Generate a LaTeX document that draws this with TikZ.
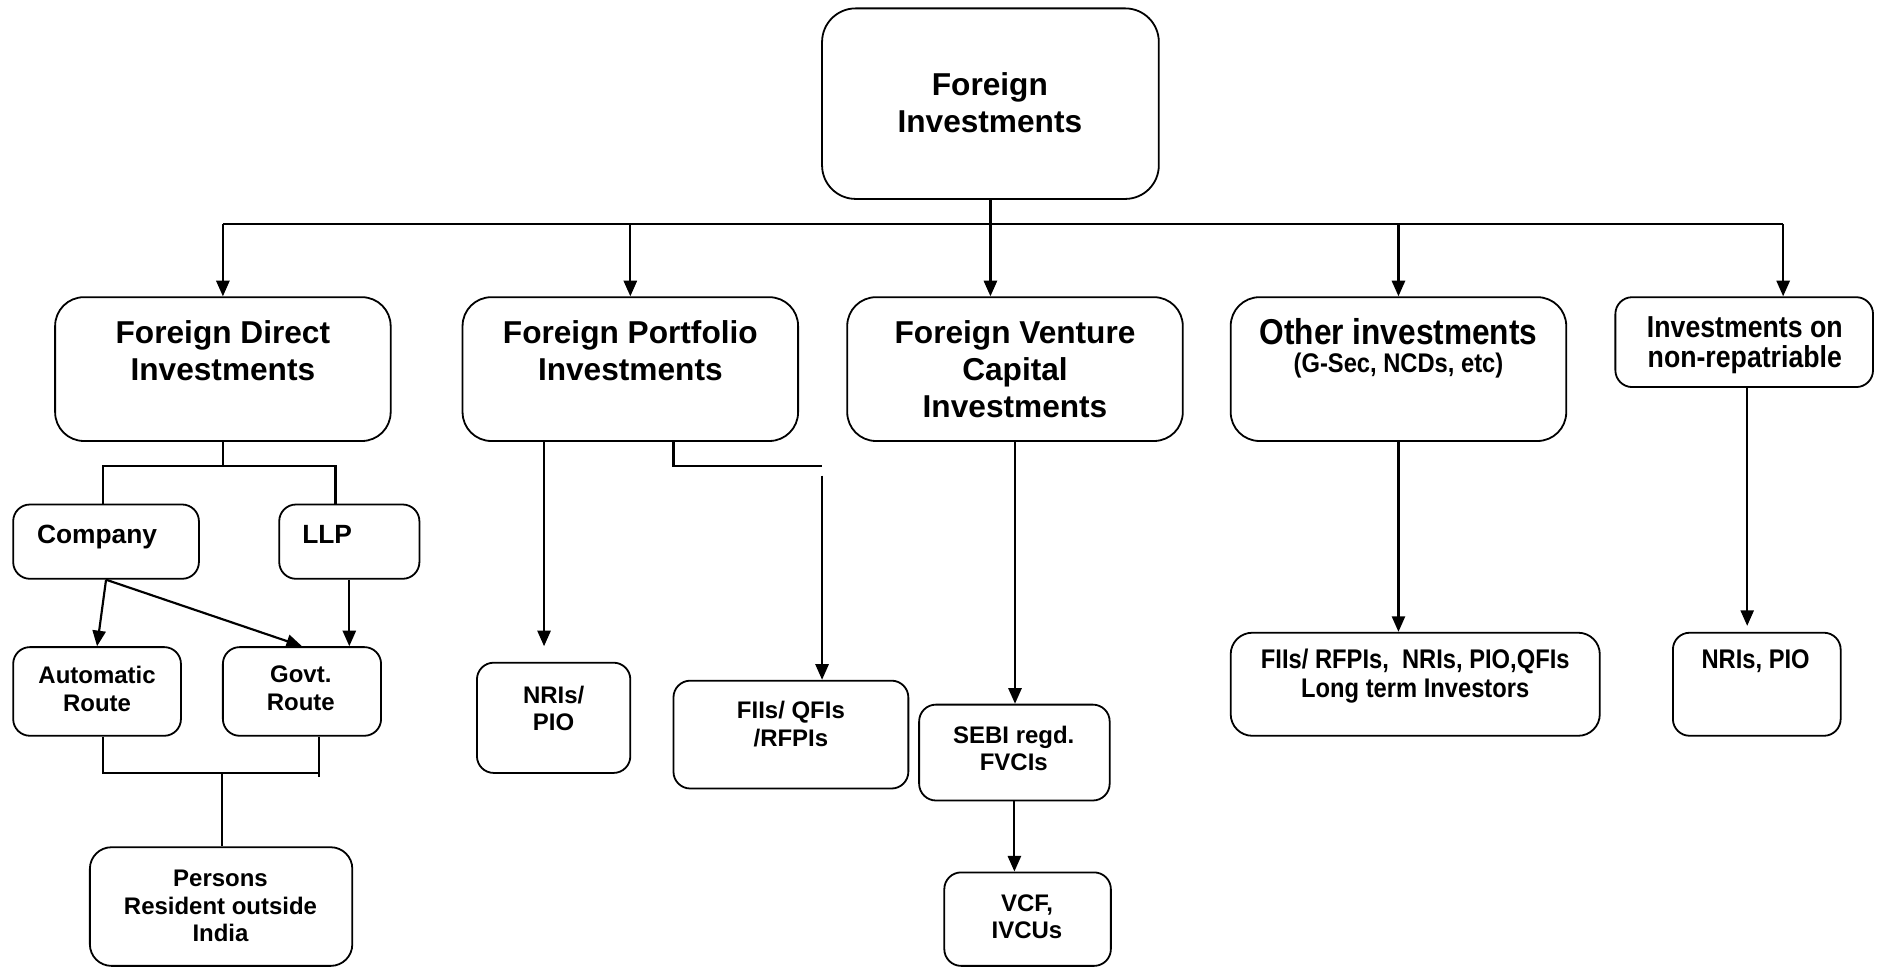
\documentclass[tikz,border=0pt]{standalone}
\usepackage{fontspec}
\setmainfont{Liberation Sans}
\newfontfamily\narrowsans[FakeStretch=0.88]{Liberation Sans}
\usetikzlibrary{arrows.meta}

\begin{document}
\begin{tikzpicture}[x=1pt,y=-1pt]
\tikzstyle{every node}+=[inner sep=0pt]
\tikzstyle{box}=[draw=black, line width=1.5pt, rounded corners=14pt]
\tikzstyle{head}=[font=\fontsize{26.4}{31}\selectfont\bfseries, align=center]
\tikzstyle{mid}=[font=\fontsize{22}{25}\selectfont\bfseries, align=center]
\tikzstyle{leaf}=[font=\fontsize{20}{23}\selectfont\bfseries, align=center]
\tikzstyle{nhead}=[font=\narrowsans\fontsize{30}{32}\selectfont\bfseries, align=center]
\tikzstyle{nleaf}=[font=\narrowsans\fontsize{22.5}{24}\selectfont\bfseries, align=center]
\tikzstyle{nmid}=[font=\narrowsans\fontsize{25.3}{25}\selectfont\bfseries, align=center]
\tikzstyle{link}=[line width=1.8pt]
\tikzstyle{arr}=[link, -{Triangle[width=11pt,length=13pt]}]
\useasboundingbox (0,0) rectangle (1568,808);
% boxes
\node[box, rounded corners=28pt, minimum width=281pt, minimum height=159pt] (root) at (826.5,86.5) {};
\node[box, rounded corners=24pt, minimum width=280pt, minimum height=120pt] (fdi) at (186,308) {};
\node[box, rounded corners=24pt, minimum width=280pt, minimum height=120pt] (fpi) at (526,308) {};
\node[box, rounded corners=24pt, minimum width=280pt, minimum height=120pt] (fvci) at (847,308) {};
\node[box, rounded corners=24pt, minimum width=280pt, minimum height=120pt] (oth) at (1167,308) {};
\node[box, minimum width=215pt, minimum height=75pt] (nonrep) at (1455.5,285.5) {};
\node[box, minimum width=155pt, minimum height=62pt] (company) at (88.5,452) {};
\node[box, minimum width=117pt, minimum height=62pt] (llp) at (291.5,452) {};
\node[box, minimum width=140pt, minimum height=74pt] (auto) at (81,577) {};
\node[box, minimum width=132pt, minimum height=74pt] (govt) at (252,577) {};
\node[box, rounded corners=18pt, minimum width=219pt, minimum height=99pt] (persons) at (184.5,756.5) {};
\node[box, minimum width=128pt, minimum height=92pt] (nri) at (462,599) {};
\node[box, minimum width=196pt, minimum height=90pt] (fii) at (660,613) {};
\node[box, minimum width=159pt, minimum height=80pt] (sebi) at (846.5,628) {};
\node[box, minimum width=139pt, minimum height=78pt] (vcf) at (857.5,767) {};
\node[box, rounded corners=18pt, minimum width=308pt, minimum height=86pt] (othb) at (1181,571) {};
\node[box, minimum width=140pt, minimum height=86pt] (nrb) at (1466,571) {};
% texts
\node[head] (root-t) at (826,85.5) {Foreign\\Investments};
\node[head] (fdi-t) at (186,292.5) {Foreign Direct\\Investments};
\node[head] (fpi-t) at (526,292.5) {Foreign Portfolio\\Investments};
\node[head] (fvci-t) at (847,308) {Foreign Venture\\Capital\\Investments};
\node[nhead] (oth-t) at (1167,277) {Other investments};
\node[nleaf] (oth-s) at (1167,305) {(G-Sec, NCDs, etc)};
\node[nmid] (nonrep-t) at (1456,288) {Investments on\\non-repatriable};
\node[mid] (company-t) at (81,448) {Company};
\node[mid] (llp-t) at (273,446) {LLP};
\node[leaf] (auto-t) at (81,575) {Automatic\\Route};
\node[leaf] (govt-t) at (251,574.5) {Govt.\\Route};
\node[leaf] (persons-t) at (184,756) {Persons\\Resident outside\\India};
\node[leaf] (nri-t) at (462,591) {NRIs/\\PIO};
\node[leaf] (fii-t) at (660,604) {FIIs/ QFIs\\/RFPIs};
\node[leaf] (sebi-t) at (846,624.5) {SEBI regd.\\FVCIs};
\node[leaf] (vcf-t) at (857,765) {VCF,\\IVCUs};
\node[nleaf] (othb-t) at (1181,564) {FIIs/ RFPIs,\ \ NRIs, PIO,QFIs\\Long term Investors};
\node[nleaf] (nrb-t) at (1465,552) {NRIs, PIO};
% top level
\draw[link] (root.south) -- ++(0,20) coordinate (bus);
\coordinate (nrtop) at (1488,0 |- nonrep.north);
\draw[link] (fdi.north |- bus) -- (nrtop |- bus);
\draw[arr] (fdi.north |- bus) -- (fdi.north);
\draw[arr] (fpi.north |- bus) -- (fpi.north);
\draw[arr] (bus) -- (bus |- fvci.north);
\draw[arr] (oth.north |- bus) -- (oth.north);
\draw[arr] (nrtop |- bus) -- (nrtop);
% direct investments
\draw[link] (fdi.south) -- ++(0,20) coordinate (fdibus);
\draw[link] (86,0 |- company.north) |- (280,0 |- fdibus) -- (280,0 |- llp.north);
\draw[arr] (company.south) -- (auto.north);
\draw[arr] (company.south) -- (govt.north);
\draw[arr] (llp.south) -- (llp.south |- govt.north);
\coordinate (pbus) at (185,645);
\draw[link] (86,0 |- auto.south) |- (266,0 |- pbus);
\draw[link] (266,0 |- govt.south) -- (266,648);
\draw[link] (pbus) -- (pbus |- persons.north);
% portfolio
\draw[arr, shorten >=13pt] (454,0 |- fpi.south) -- (454,0 |- nri.north);
\draw[link] (562,0 |- fpi.south) |- (686,389);
\draw[arr] (686,397) -- (686,0 |- fii.north);
% venture capital
\draw[arr] (fvci.south) -- (fvci.south |- sebi.north);
\draw[arr] (sebi.south) -- (sebi.south |- vcf.north);
% others
\draw[arr] (oth.south) -- (oth.south |- othb.north);
\draw[arr, shorten >=5pt] (1458,0 |- nonrep.south) -- (1458,0 |- nrb.north);
\end{tikzpicture}
\end{document}
